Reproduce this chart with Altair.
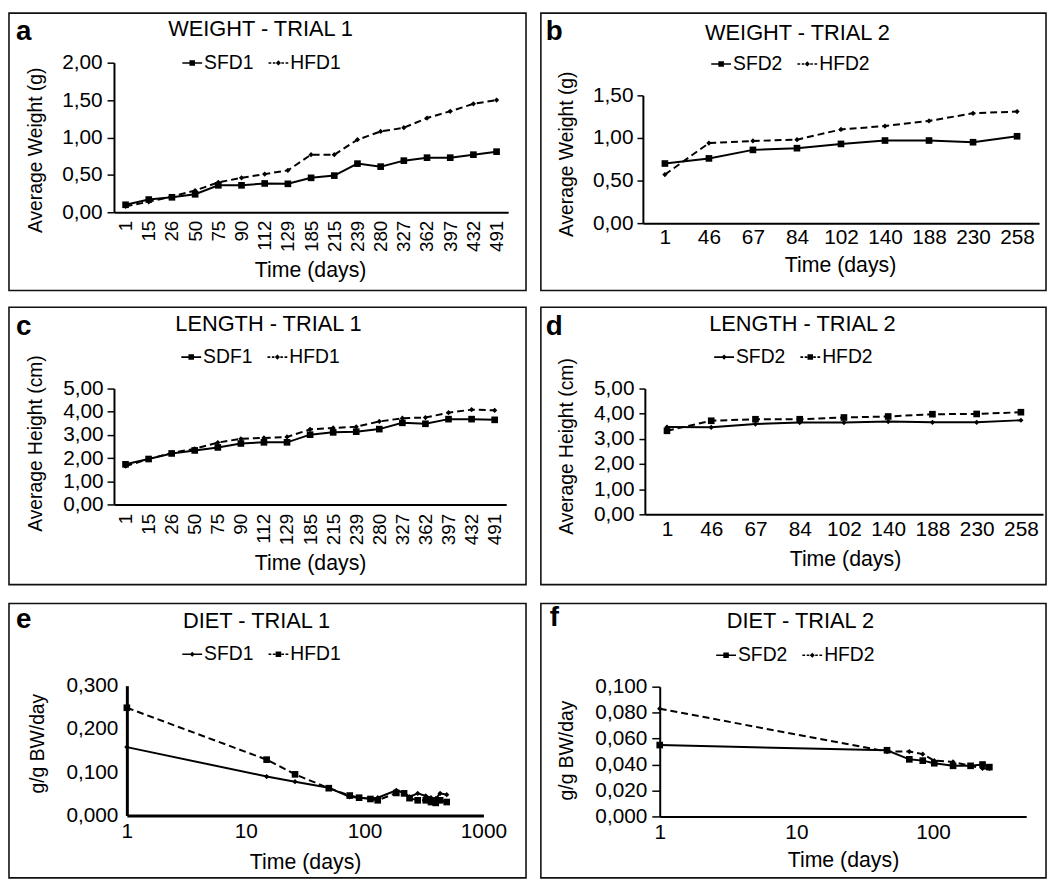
import altair as alt
import pandas as pd

# ---------------- data ----------------
days_trial1 = [1, 15, 26, 50, 75, 90, 112, 129, 185, 215, 239, 280, 327, 362, 397, 432, 491]
days_trial2 = [1, 46, 67, 84, 102, 140, 188, 230, 258]

weight1_sfd1 = [0.10, 0.17, 0.20, 0.24, 0.36, 0.36, 0.385, 0.38, 0.46, 0.49, 0.65, 0.61, 0.69, 0.73, 0.73, 0.77, 0.81]
weight1_hfd1 = [0.08, 0.14, 0.21, 0.29, 0.40, 0.46, 0.51, 0.56, 0.77, 0.77, 0.97, 1.08, 1.13, 1.26, 1.35, 1.45, 1.50]
weight2_sfd2 = [0.70, 0.76, 0.86, 0.88, 0.93, 0.97, 0.97, 0.95, 1.02]
weight2_hfd2 = [0.57, 0.94, 0.965, 0.98, 1.10, 1.14, 1.20, 1.29, 1.31]
length1_sdf1 = [1.73, 1.96, 2.20, 2.33, 2.46, 2.63, 2.68, 2.68, 3.01, 3.11, 3.14, 3.25, 3.52, 3.48, 3.68, 3.68, 3.65]
length1_hfd1 = [1.65, 1.96, 2.22, 2.40, 2.67, 2.83, 2.87, 2.91, 3.24, 3.30, 3.35, 3.58, 3.72, 3.75, 3.96, 4.09, 4.06]
length2_sfd2 = [3.47, 3.46, 3.59, 3.65, 3.65, 3.69, 3.66, 3.66, 3.74]
length2_hfd2 = [3.32, 3.72, 3.78, 3.78, 3.85, 3.89, 3.98, 3.99, 4.06]
diet1_sfd1 = [0.158, 0.090, 0.078, 0.064, 0.043, 0.041, 0.039, 0.041, 0.058, 0.052, 0.043, 0.051, 0.045, 0.041, 0.039, 0.051, 0.048]
diet1_hfd1 = [0.249, 0.129, 0.095, 0.063, 0.046, 0.041, 0.038, 0.035, 0.052, 0.051, 0.040, 0.035, 0.035, 0.031, 0.029, 0.035, 0.031]
diet2_sfd2 = [0.055, 0.051, 0.044, 0.043, 0.041, 0.039, 0.039, 0.040, 0.038]
diet2_hfd2 = [0.083, 0.050, 0.050, 0.048, 0.043, 0.042, 0.039, 0.037, 0.037]

panel_letters = ["a", "b", "c", "d", "e", "f"]
panel_titles = ["WEIGHT - TRIAL 1", "WEIGHT - TRIAL 2", "LENGTH - TRIAL 1",
                "LENGTH - TRIAL 2", "DIET - TRIAL 1", "DIET - TRIAL 2"]
y_titles = ["Average Weight (g)", "Average Weight (g)", "Average  Height (cm)",
            "Average  Height (cm)", "g/g BW/day", "g/g BW/day"]
x_title = "Time (days)"

y_ticks_weight1 = [0, 0.5, 1.0, 1.5, 2.0]
y_ticks_weight2 = [0, 0.5, 1.0, 1.5]
y_ticks_length = [0, 1, 2, 3, 4, 5]
y_ticks_diet1 = [0, 0.1, 0.2, 0.3]
y_ticks_diet2 = [0, 0.02, 0.04, 0.06, 0.08, 0.1]
x_ticks_diet1 = [1, 10, 100, 1000]
x_ticks_diet2 = [1, 10, 100]

FONT = "Liberation Sans"

# legend symbols (filled paths): line segment(s) with marker in the middle
_SOLID = "M-1,-0.08H1V0.08H-1Z"
_DASHED = ("M-1,-0.08H-0.72V0.08H-1Z M-0.56,-0.08H-0.3V0.08H-0.56Z "
           "M0.3,-0.08H0.56V0.08H0.3Z M0.72,-0.08H1V0.08H0.72Z")
_SQ = " M-0.28,-0.28H0.28V0.28H-0.28Z"
_DI = " M0,-0.26L0.26,0L0,0.26L-0.26,0Z"
MARK = {"square": ("square", 45), "diamond": ("diamond", 28)}
LEG_PATH = {("square", False): _SOLID + _SQ, ("diamond", False): _SOLID + _DI,
            ("square", True): _DASHED + _SQ, ("diamond", True): _DASHED + _DI}


def comma_expr(dec):
    return "replace(format(datum.value, '.%df'), '.', ',')" % dec


def panel(i, days, s_name, s_vals, h_name, h_vals, s_mark, h_mark,
          yticks, ydec, geo, log=False):
    df = pd.DataFrame({
        "day": list(days) + list(days),
        "value": list(s_vals) + list(h_vals),
        "series": [s_name] * len(days) + [h_name] * len(days),
    })
    W, H = geo["W"], geo["H"]
    x0, x1 = geo["xr"]
    yb, yt = geo["yr"]
    xaxis_y = yb

    common = dict(domainColor="black", domainWidth=geo.get("dw", 2), grid=False,
                  labelColor="black", labelFont=FONT, titleFont=FONT,
                  titleColor="black", titleFontWeight="normal",
                  labelOverlap=False, labelFlush=False)

    if log:
        xs = alt.Scale(type="log", domain=geo["xdom"], range=[x0, x1], nice=False)
        xax = alt.Axis(values=geo["xticks"], labelExpr="format(datum.value, 'd')",
                       labelAngle=0, labelFontSize=21, labelPadding=geo["xpad"],
                       ticks=False, tickSize=0, offset=xaxis_y - H,
                       titleX=geo["xt"][0], titleY=geo["xt"][1] - xaxis_y,
                       titleAlign="center", titleBaseline="middle", titleAngle=0,
                       titleFontSize=21.5, **common)
        xf = "day:Q"
    else:
        xs = alt.Scale(type="point", domain=list(days), range=[x0, x1], padding=0.5)
        xax = alt.Axis(labelAngle=geo["xangle"], labelFontSize=geo["xfs"],
                       labelPadding=geo["xpad"], ticks=False, tickSize=0,
                       offset=xaxis_y - H,
                       titleX=geo["xt"][0], titleY=geo["xt"][1] - xaxis_y,
                       titleAlign="center", titleBaseline="middle", titleAngle=0,
                       titleFontSize=21.5, **common)
        xf = "day:O"

    ys = alt.Scale(domain=geo["ydom"], range=[yb, yt], nice=False)
    yax_kw = dict(values=yticks, labelExpr=comma_expr(ydec), labelFontSize=21,
                  labelPadding=geo["ypad"], offset=-x0,
                  titleX=geo["yt"][0] - x0, titleY=geo["yt"][1],
                  titleAlign="center", titleBaseline="middle", titleAngle=270,
                  titleFontSize=19.5, **common)
    if geo["ytick"] > 0:
        yax_kw.update(ticks=True, tickSize=geo["ytick"], tickColor="black", tickWidth=1.5)
    else:
        yax_kw.update(ticks=False, tickSize=0)
    yax = alt.Axis(**yax_kw)

    base = alt.Chart(df).encode(
        x=alt.X(xf, scale=xs, axis=xax, title=x_title),
        y=alt.Y("value:Q", scale=ys, axis=yax, title=y_titles[i]),
    )
    s_line = base.transform_filter(alt.datum.series == s_name).mark_line(
        color="black", strokeWidth=2)
    h_line = base.transform_filter(alt.datum.series == h_name).mark_line(
        color="black", strokeWidth=2, strokeDash=[7, 4])
    s_pts = base.transform_filter(alt.datum.series == s_name).mark_point(
        filled=True, color="black", opacity=1, shape=MARK[s_mark][0], size=MARK[s_mark][1])
    h_pts = base.transform_filter(alt.datum.series == h_name).mark_point(
        filled=True, color="black", opacity=1, shape=MARK[h_mark][0], size=MARK[h_mark][1])

    leg_kw = dict(orient="none", legendX=geo["leg"][0], legendY=geo["leg"][1],
                  direction="horizontal", symbolSize=400, symbolStrokeWidth=0,
                  symbolFillColor="black", symbolOpacity=1,
                  labelFont=FONT, labelFontSize=19.5, labelColor="black",
                  labelOffset=2, columnPadding=15, padding=0)
    legend_layer = alt.Chart(df).transform_filter("false").mark_point(
        filled=True, opacity=1
    ).encode(
        shape=alt.Shape("series:N", title=None,
                        scale=alt.Scale(domain=[s_name, h_name],
                                        range=[LEG_PATH[(s_mark, False)],
                                               LEG_PATH[(h_mark, True)]]),
                        legend=alt.Legend(**leg_kw)),
        fill=alt.value("black"),
    )

    title_mark = alt.Chart(pd.DataFrame({"t": [panel_titles[i]]})).mark_text(
        font=FONT, fontSize=22, color="black", align="center", baseline="middle"
    ).encode(text="t:N", x=alt.value(geo["title"][0]), y=alt.value(geo["title"][1]))
    letter_mark = alt.Chart(pd.DataFrame({"t": [panel_letters[i]]})).mark_text(
        font=FONT, fontSize=28, fontWeight="bold", color="black",
        align="left", baseline="alphabetic"
    ).encode(text="t:N", x=alt.value(geo["letter"][0]), y=alt.value(geo["letter"][1]))

    return alt.layer(s_line, h_line, s_pts, h_pts, legend_layer,
                     title_mark, letter_mark).properties(width=W, height=H)


geo_a = dict(W=522, H=280, xr=[106, 504], yr=[201, 50], ydom=[0, 2], xangle=270, xfs=19,
             xpad=8, ytick=7, ypad=5, title=(254, 16), letter=(7, 27), leg=(175, 40),
             xt=(304, 260), yt=(27, 138))
geo_b = dict(W=510, H=280, xr=[103, 503], yr=[212, 83], ydom=[0, 1.5], xangle=0, xfs=21,
             xpad=4, ytick=6, ypad=4, title=(259, 20), letter=(5, 27), leg=(172, 41),
             xt=(302, 255), yt=(26, 142))
geo_c = dict(W=522, H=280, xr=[106, 502], yr=[199, 82], ydom=[0, 5], xangle=270, xfs=19,
             xpad=9, ytick=7, ypad=4, title=(262, 17), letter=(7, 28), leg=(174, 40),
             xt=(304, 259), yt=(27, 137))
geo_d = dict(W=510, H=280, xr=[105, 507], yr=[209, 82], ydom=[0, 5], xangle=0, xfs=21,
             xpad=4, ytick=6, ypad=5, title=(264, 17), letter=(5, 28), leg=(175, 40),
             xt=(307, 255), yt=(26, 140))
geo_e = dict(W=522, H=277, xr=[119, 479], yr=[214, 83], ydom=[0, 0.3], xdom=[1, 1000],
             xticks=x_ticks_diet1, xpad=5, ytick=0, ypad=9, title=(250, 18), letter=(7, 25),
             leg=(175, 41), xt=(299, 262), yt=(29, 141), dw=3)
geo_f = dict(W=510, H=277, xr=[120, 490], yr=[215, 84], ydom=[0, 0.1], xdom=[1, 480],
             xticks=x_ticks_diet2, xpad=5, ytick=8, ypad=5, title=(262, 18), letter=(9, 23),
             leg=(177, 42), xt=(305, 260), yt=(26, 148))

pa = panel(0, days_trial1, "SFD1", weight1_sfd1, "HFD1", weight1_hfd1, "square", "diamond",
           y_ticks_weight1, 2, geo_a)
pb = panel(1, days_trial2, "SFD2", weight2_sfd2, "HFD2", weight2_hfd2, "square", "diamond",
           y_ticks_weight2, 2, geo_b)
pc = panel(2, days_trial1, "SDF1", length1_sdf1, "HFD1", length1_hfd1, "square", "diamond",
           y_ticks_length, 2, geo_c)
pd_ = panel(3, days_trial2, "SFD2", length2_sfd2, "HFD2", length2_hfd2, "diamond", "square",
            y_ticks_length, 2, geo_d)
pe = panel(4, days_trial1, "SFD1", diet1_sfd1, "HFD1", diet1_hfd1, "diamond", "square",
           y_ticks_diet1, 3, geo_e, log=True)
pf = panel(5, days_trial2, "SFD2", diet2_sfd2, "HFD2", diet2_hfd2, "square", "diamond",
           y_ticks_diet2, 3, geo_f, log=True)


def indep(c):
    return c.resolve_scale(shape="independent").resolve_legend(shape="independent")


row1 = indep(alt.hconcat(pa, pb, spacing=13))
row2 = indep(alt.hconcat(pc, pd_, spacing=13))
row3 = indep(alt.hconcat(pe, pf, spacing=13))
lower = indep(alt.vconcat(row2, row3, spacing=17))

chart = indep(alt.vconcat(row1, lower, spacing=15)).properties(padding=0).configure(
    font=FONT, background="white"
).configure_view(stroke="#111111", strokeWidth=1.6)

chart.save("out.html", embed_options={"renderer": "svg", "actions": False})
